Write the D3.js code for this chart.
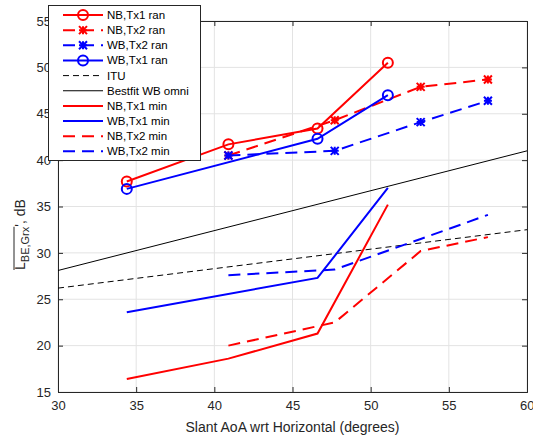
<!DOCTYPE html>
<html><head><meta charset="utf-8">
<script src="https://cdn.jsdelivr.net/npm/d3@7"></script>
<style>
body{margin:0;background:#fff;}
text{font-family:"Liberation Sans",Arial,Helvetica,sans-serif;}
</style></head>
<body><svg id="c" width="533" height="439"></svg>
<script>
const xTicks = [30,35,40,45,50,55,60];
const yTicks = [15,20,25,30,35,40,45,50,55];

const nbTx1RanX = [34.4, 40.9, 46.6, 51.1];
const nbTx1RanY = [37.7, 41.7, 43.4, 50.5];
const nbTx2RanX = [40.9, 47.7, 53.2, 57.5];
const nbTx2RanY = [40.5, 44.3, 47.9, 48.7];
const wbTx2RanX = [40.9, 47.7, 53.2, 57.5];
const wbTx2RanY = [40.5, 41.0, 44.1, 46.4];
const wbTx1RanX = [34.4, 46.6, 51.1];
const wbTx1RanY = [36.9, 42.3, 47.0];
const ituX = [30, 60];
const ituY = [26.2, 32.5];
const bestX = [30, 60];
const bestY = [28.1, 41.0];
const nbTx1MinX = [34.4, 40.9, 46.6, 51.1];
const nbTx1MinY = [16.4, 18.6, 21.3, 35.2];
const wbTx1MinX = [34.4, 46.6, 51.1];
const wbTx1MinY = [23.6, 27.3, 37.0];
const nbTx2MinX = [40.9, 47.7, 53.2, 57.5];
const nbTx2MinY = [20.0, 22.5, 30.2, 31.7];
const wbTx2MinX = [40.9, 47.7, 53.2, 57.5];
const wbTx2MinY = [27.6, 28.2, 31.5, 34.1];

const seriesNames = ["NB,Tx1 ran","NB,Tx2 ran","WB,Tx2 ran","WB,Tx1 ran","ITU","Bestfit WB omni","NB,Tx1 min","WB,Tx1 min","NB,Tx2 min","WB,Tx2 min"];

const RED="#ff0000", BLUE="#0000ff", BLK="#000000";
const series = [
  {name:seriesNames[0], xs:nbTx1RanX, ys:nbTx1RanY, color:RED, w:2, dash:null, marker:"o"},
  {name:seriesNames[1], xs:nbTx2RanX, ys:nbTx2RanY, color:RED, w:2, dash:"12,7", marker:"*"},
  {name:seriesNames[2], xs:wbTx2RanX, ys:wbTx2RanY, color:BLUE, w:2, dash:"12,7", marker:"*"},
  {name:seriesNames[3], xs:wbTx1RanX, ys:wbTx1RanY, color:BLUE, w:2, dash:null, marker:"o"},
  {name:seriesNames[4], xs:ituX, ys:ituY, color:BLK, w:1, dash:"6,4", marker:null},
  {name:seriesNames[5], xs:bestX, ys:bestY, color:BLK, w:1, dash:null, marker:null},
  {name:seriesNames[6], xs:nbTx1MinX, ys:nbTx1MinY, color:RED, w:2, dash:null, marker:null},
  {name:seriesNames[7], xs:wbTx1MinX, ys:wbTx1MinY, color:BLUE, w:2, dash:null, marker:null},
  {name:seriesNames[8], xs:nbTx2MinX, ys:nbTx2MinY, color:RED, w:2, dash:"12,7", marker:null},
  {name:seriesNames[9], xs:wbTx2MinX, ys:wbTx2MinY, color:BLUE, w:2, dash:"12,7", marker:null}
];

const L=58, R=527, T=21, B=392;
const svg = d3.select("#c");
const x = d3.scaleLinear().domain([30,60]).range([L,R]);
const y = d3.scaleLinear().domain([15,55]).range([B,T]);

// grid
const g = svg.append("g");
g.selectAll(".gx").data(xTicks).enter().append("line")
  .attr("x1",d=>x(d)).attr("x2",d=>x(d)).attr("y1",T).attr("y2",B)
  .attr("stroke","#e3e3e3").attr("stroke-width",1);
g.selectAll(".gy").data(yTicks).enter().append("line")
  .attr("y1",d=>y(d)).attr("y2",d=>y(d)).attr("x1",L).attr("x2",R)
  .attr("stroke","#e3e3e3").attr("stroke-width",1);

// axes
const tc="#262626";
const ax = svg.append("g").attr("transform",`translate(0,${B})`)
  .call(d3.axisBottom(x).tickValues(xTicks).tickSize(-5).tickPadding(9).tickFormat(d3.format("d")));
const ay = svg.append("g").attr("transform",`translate(${L},0)`)
  .call(d3.axisLeft(y).tickValues(yTicks).tickSize(-5).tickPadding(7).tickFormat(d3.format("d")));
const at = svg.append("g").attr("transform",`translate(0,${T})`)
  .call(d3.axisTop(x).tickValues(xTicks).tickSize(-5).tickFormat(""));
const ar = svg.append("g").attr("transform",`translate(${R},0)`)
  .call(d3.axisRight(y).tickValues(yTicks).tickSize(-5).tickFormat(""));
[ax,ay,at,ar].forEach(a=>{
  a.selectAll("path").attr("stroke",tc).attr("stroke-width",1);
  a.selectAll("line").attr("stroke",tc);
  a.selectAll("text").attr("fill",tc).style("font-size","13px").style("font-family","'Liberation Sans',Arial,sans-serif");
});
// keep the last x tick label inside the picture
ax.selectAll(".tick text").filter(d=>d===60).attr("text-anchor","end").attr("dx","7");

// lines
const lineGen = d3.line().x(d=>x(d[0])).y(d=>y(d[1]));
svg.append("clipPath").attr("id","cp").append("rect").attr("x",L).attr("y",T).attr("width",R-L).attr("height",B-T);
const plot = svg.append("g");

function drawMarker(sel, type, cx, cy, color){
  if(type==="o"){
    sel.append("circle").attr("cx",cx).attr("cy",cy).attr("r",5)
      .attr("fill","none").attr("stroke",color).attr("stroke-width",2);
  } else if(type==="*"){
    const s=4;
    const p=`M${cx-s},${cy-s}L${cx+s},${cy+s}M${cx-s},${cy+s}L${cx+s},${cy-s}M${cx},${cy-s}L${cx},${cy+s}M${cx-s},${cy}L${cx+s},${cy}`;
    sel.append("path").attr("d",p).attr("stroke",color).attr("stroke-width",2).attr("fill","none");
  }
}

series.forEach(s=>{
  const pts = s.xs.map((v,i)=>[v,s.ys[i]]);
  plot.append("path").attr("d",lineGen(pts)).attr("fill","none")
    .attr("stroke",s.color).attr("stroke-width",s.w)
    .attr("stroke-dasharray",s.dash).attr("clip-path","url(#cp)");
  if(s.marker){ pts.forEach(p=>drawMarker(plot,s.marker,x(p[0]),y(p[1]),s.color)); }
});

// x label
svg.append("text").attr("x",(L+R)/2).attr("y",432).attr("text-anchor","middle")
  .attr("fill",tc).style("font-size","14px").text("Slant AoA wrt Horizontal (degrees)");

// y label
const yl = svg.append("text").attr("transform","translate(25,270) rotate(-90)").attr("fill",tc).style("font-size","14px");
const t1 = yl.append("tspan").text("L");
const t2 = yl.append("tspan").attr("dy",4).style("font-size","11px").text("BE,Grx");
const t3 = yl.append("tspan").attr("dy",-4).text("', dB");
const len = t1.node().getComputedTextLength()+t2.node().getComputedTextLength();
svg.append("line").attr("x1",14).attr("x2",14).attr("y1",270).attr("y2",270-len)
  .attr("stroke",tc).attr("stroke-width",1);

// legend
const lg = svg.append("g");
lg.append("rect").attr("x",48.5).attr("y",5.5).attr("width",152).attr("height",155)
  .attr("fill","#fff").attr("stroke",tc).attr("stroke-width",1);
series.forEach((s,i)=>{
  const yy = 15 + i*15.15;
  lg.append("line").attr("x1",63).attr("x2",103).attr("y1",yy).attr("y2",yy)
    .attr("stroke",s.color).attr("stroke-width",s.w).attr("stroke-dasharray",s.dash);
  if(s.marker) drawMarker(lg,s.marker,83,yy,s.color);
  lg.append("text").attr("x",107).attr("y",yy+4).attr("fill","#000").style("font-size","11.5px").text(s.name);
});
</script></body></html>
